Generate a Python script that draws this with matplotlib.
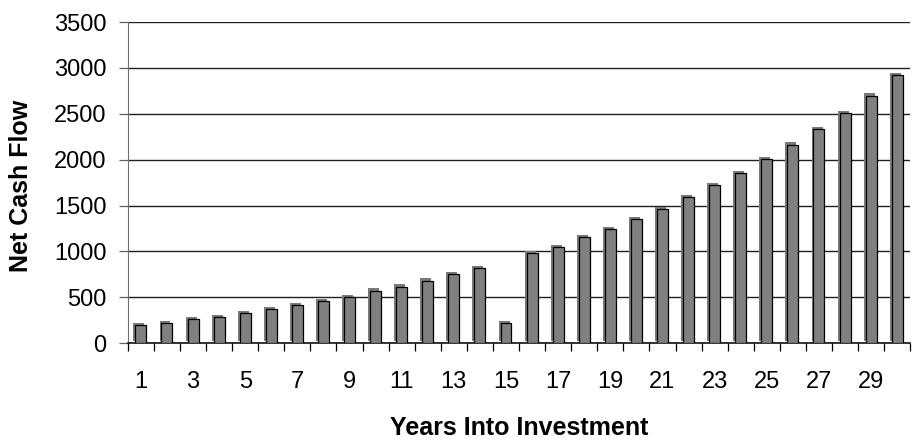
import matplotlib
matplotlib.use("Agg")
import matplotlib.pyplot as plt
import matplotlib.patheffects as pe
import numpy as np

plt.rcParams['font.family'] = ['Liberation Sans', 'DejaVu Sans']

years = list(range(1, 31))
net_cash_flow = [193, 215, 259, 281, 326, 370, 415, 459, 500, 570,
                 615, 681, 748, 815, 213, 978, 1044, 1153, 1241, 1350,
                 1460, 1591, 1723, 1854, 2007, 2162, 2335, 2505, 2699, 2921]
y_ticks = [0, 500, 1000, 1500, 2000, 2500, 3000, 3500]
x_label_years = list(range(1, 30, 2))

fig = plt.figure(figsize=(9.13, 4.43), dpi=100)
ax = fig.add_axes([0.140, 0.2257, 0.857, 0.7243])

bars = ax.bar(years, net_cash_flow, width=0.42, color='#808080',
              edgecolor='black', linewidth=0.9, zorder=3)
for b in bars:
    b.set_path_effects([
        pe.SimplePatchShadow(offset=(-1.4, 1.7), shadow_rgbFace='#7a7a7a', alpha=1.0),
        pe.Normal(),
    ])

ax.set_xlim(0.5, 30.5)
ax.set_ylim(0, 3500)
ax.set_yticks(y_ticks)
ax.set_yticklabels([str(v) for v in y_ticks])
ax.yaxis.grid(True, color='#202020', linewidth=1.0, zorder=0)
ax.set_axisbelow(True)

ax.set_xticks(x_label_years)
ax.set_xticklabels([str(v) for v in x_label_years])
ax.set_xticks(np.arange(0.5, 31, 1.0), minor=True)
ax.tick_params(axis='x', which='major', length=0, pad=20, labelsize=17)
ax.tick_params(axis='x', which='minor', length=6, width=0.9, color='black', direction='out')
ax.tick_params(axis='y', which='major', length=6.5, width=0.9, color='#606060', pad=9, labelsize=17)

for s in ['top', 'right']:
    ax.spines[s].set_visible(False)
ax.spines['left'].set_color('#707070')
ax.spines['bottom'].set_color('black')
ax.spines['bottom'].set_linewidth(1.1)

ax.set_xlabel('Years Into Investment', fontsize=18, fontweight='bold')
ax.set_ylabel('Net Cash Flow', fontsize=18, fontweight='bold')
ax.xaxis.set_label_coords(0.5, -0.228)
ax.yaxis.set_label_coords(-0.1215, 0.49)

fig.savefig('out.png', dpi=100)
